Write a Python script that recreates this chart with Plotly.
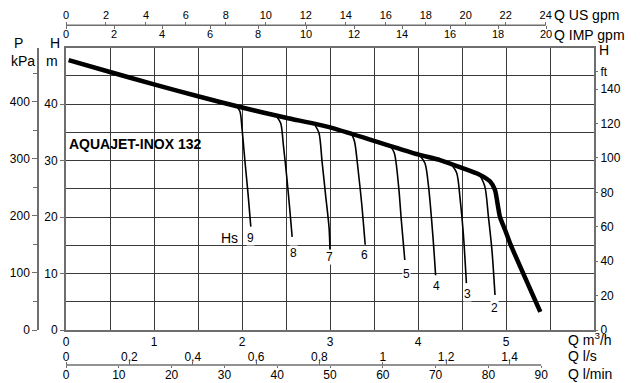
import plotly.graph_objects as go

# ---------------- data ----------------
# main pump curve, Q in m3/h, H in m
MAIN_Q = [0.03, 0.5, 1.0, 1.5, 2.0, 2.5, 3.0, 3.5, 4.0, 4.25, 4.5, 4.7, 4.82, 4.875, 4.91, 4.93, 4.99, 5.045, 5.39]
MAIN_H = [47.8, 45.7, 43.5, 41.4, 39.4, 37.6, 35.9, 33.5, 31.1, 30.1, 28.7, 27.5, 26.3, 24.8, 21.8, 20.1, 17.7, 15.4, 3.2]

# suction-lift (Hs) curves
HS_NAMES = ["9", "8", "7", "6", "5", "4", "3", "2"]
HS_Q = [
    [1.94, 1.977, 2.0, 2.034, 2.07, 2.10],
    [2.39, 2.44, 2.47, 2.51, 2.545, 2.57],
    [2.83, 2.875, 2.91, 2.95, 2.99, 3.0],
    [3.25, 3.28, 3.32, 3.36, 3.40],
    [3.68, 3.73, 3.78, 3.81, 3.85],
    [4.02, 4.08, 4.12, 4.17, 4.20],
    [4.38, 4.44, 4.48, 4.515, 4.55],
    [4.70, 4.76, 4.80, 4.84, 4.875],
]
HS_H = [
    [39.6, 38.7, 35.7, 29.8, 23.9, 18.3],
    [37.9, 36.6, 32.8, 26.9, 21.0, 16.5],
    [36.3, 34.9, 29.8, 23.9, 18.0, 13.9],
    [34.6, 33.3, 28.3, 22.4, 15.1],
    [32.7, 31.4, 25.4, 19.5, 12.4],
    [30.9, 29.5, 25.4, 16.5, 9.7],
    [29.3, 27.8, 23.0, 17.1, 8.3],
    [27.5, 25.4, 20.1, 14.2, 6.2],
]
HS_LABEL_Q = [2.097, 2.58, 2.994, 3.392, 3.869, 4.205, 4.568, 4.864]
HS_LABEL_H = [16.3, 13.7, 12.9, 13.3, 9.9, 7.8, 6.4, 3.9]

MODEL = "AQUAJET-INOX 132"

# axis tick values
Q_M3H_TICKS = [0, 1, 2, 3, 4, 5]
Q_LS_TICKS = [0, 0.2, 0.4, 0.6, 0.8, 1.0, 1.2, 1.4]
Q_LS_TEXT = ["0", "0,2", "0,4", "0,6", "0,8", "1", "1,2", "1,4"]
Q_LMIN_TICKS = [0, 10, 20, 30, 40, 50, 60, 70, 80, 90]
Q_USGPM_TICKS = [0, 2, 4, 6, 8, 10, 12, 14, 16, 18, 20, 22, 24]
Q_IMPGPM_TICKS = [0, 2, 4, 6, 8, 10, 12, 14, 16, 18, 20]
H_M_TICKS = [0, 10, 20, 30, 40]
P_KPA_TICKS = [0, 100, 200, 300, 400]
H_FT_TICKS = [0, 20, 40, 60, 80, 100, 120, 140, 150]
H_FT_TEXT = ["0", "20", "40", "60", "80", "100", "120", "140", "ft"]

# unit conversions (axis scales)
Q_MAX = 6.0
H_MAX = 50.0
LS_PER_M3H = 1 / 3.6
LMIN_PER_M3H = 1000 / 60
USGPM_PER_M3H = 4.40287
IMPGPM_PER_M3H = 3.66615
KPA_PER_M = 9.9
FT_PER_M = 3.28084

# ---------------- layout geometry ----------------
W, H = 640, 383
def fx(px):
    return px / W
def fy(py):
    return 1 - py / H

X_DOM = [fx(66), fx(594)]
Y_DOM = [fy(330), fy(47.7)]
FONT = "Liberation Sans, Arial, Helvetica, sans-serif"
GRID = "#3a3a3a"
AXL = "#6e6e6e"

fig = go.Figure()

# empty traces so that every secondary axis gets registered and drawn
for xa in ["x2", "x3", "x4", "x5"]:
    fig.add_trace(go.Scatter(x=[], y=[], xaxis=xa, yaxis="y", showlegend=False, hoverinfo="skip"))
for ya in ["y2", "y3"]:
    fig.add_trace(go.Scatter(x=[], y=[], xaxis="x", yaxis=ya, showlegend=False, hoverinfo="skip"))

for q, h in zip(HS_Q, HS_H):
    fig.add_trace(go.Scatter(x=q, y=h, mode="lines",
                             line=dict(color="black", width=1.6, shape="spline", smoothing=0.8),
                             showlegend=False, hoverinfo="skip"))

fig.add_trace(go.Scatter(x=MAIN_Q, y=MAIN_H, mode="lines",
                         line=dict(color="black", width=4.5, shape="spline", smoothing=0.6),
                         showlegend=False, hoverinfo="skip"))

annotations = []
for name, q, h in zip(HS_NAMES, HS_LABEL_Q, HS_LABEL_H):
    annotations.append(dict(x=q, y=h, xref="x", yref="y", text=name, showarrow=False,
                            font=dict(size=12, color="black", family=FONT),
                            bgcolor="white", borderpad=0))
annotations.append(dict(x=1.857, y=16.3, xref="x", yref="y", text="Hs", showarrow=False,
                        font=dict(size=14, color="black", family=FONT)))
annotations.append(dict(x=0.01, y=32.9, xref="x", yref="y", text="<b>" + MODEL + "</b>",
                        showarrow=False, xanchor="left",
                        font=dict(size=14, color="black", family=FONT)))

def plab(text, px, py, anchor="center", size=14):
    annotations.append(dict(x=fx(px), y=fy(py), xref="paper", yref="paper", text=text,
                            showarrow=False, xanchor=anchor, yanchor="middle",
                            font=dict(size=size, color="black", family=FONT)))

plab("P", 18, 43)
plab("kPa", 22.5, 61)
plab("H", 55, 43)
plab("m", 52, 61)
plab("H", 597, 50, "left")
plab("Q US gpm", 552, 15, "left")
plab("Q IMP gpm", 552, 35, "left")
plab("Q m<sup>3</sup>/h", 566, 339, "left")
plab("Q l/s", 566, 356, "left")
plab("Q l/min", 566, 374, "left")

tickfont = dict(size=12, color="black", family=FONT)
tickfont_s = dict(size=11, color="black", family=FONT)

TOP_POS = fy(25.3)
BOT_POS = fy(365)

fig.update_layout(
    width=W, height=H,
    margin=dict(l=0, r=0, t=0, b=0, autoexpand=False),
    paper_bgcolor="white", plot_bgcolor="white",
    showlegend=False,
    font=dict(family=FONT, color="black"),
    annotations=annotations,
    xaxis=dict(domain=X_DOM, range=[0, Q_MAX], tickmode="array", tickvals=Q_M3H_TICKS,
               ticks="", tickfont=tickfont, showgrid=True, gridcolor=GRID, gridwidth=1.2,
               minor=dict(tickmode="linear", tick0=0, dtick=0.5, showgrid=True, gridcolor=GRID, gridwidth=1.2, ticks=""),
               showline=True, linecolor=AXL, linewidth=2, mirror=True, zeroline=False,
               anchor="y", automargin=False),
    yaxis=dict(domain=Y_DOM, range=[0, H_MAX], tickmode="array", tickvals=H_M_TICKS,
               ticks="outside", ticklen=4, tickcolor=AXL, tickfont=tickfont,
               showgrid=True, gridcolor=GRID, gridwidth=1,
               minor=dict(tickmode="linear", tick0=0, dtick=5, showgrid=True, gridcolor=GRID, gridwidth=1, ticks=""),
               showline=True, linecolor=AXL, linewidth=2, mirror=True, zeroline=False,
               anchor="x", automargin=False),
    # bottom: l/s (labels above line) and l/min (labels below line)
    xaxis2=dict(overlaying="x", anchor="free", position=BOT_POS, side="top",
                range=[0, Q_MAX * LS_PER_M3H], tickmode="array", tickvals=Q_LS_TICKS, ticktext=Q_LS_TEXT,
                ticks="outside", ticklen=3, tickcolor=AXL, tickfont=tickfont, ticklabelstandoff=-4,
                showgrid=False, showline=False, zeroline=False, automargin=False),
    xaxis3=dict(overlaying="x", anchor="free", position=BOT_POS, side="bottom",
                range=[0, Q_MAX * LMIN_PER_M3H], tickmode="array", tickvals=Q_LMIN_TICKS,
                ticks="outside", ticklen=2, tickcolor=AXL, tickfont=tickfont, ticklabelstandoff=-3,
                showgrid=False, showline=False, zeroline=False, automargin=False),
    # top: US gpm (labels above) and IMP gpm (labels below)
    xaxis4=dict(overlaying="x", anchor="free", position=TOP_POS, side="top",
                range=[0, Q_MAX * USGPM_PER_M3H], tickmode="array", tickvals=Q_USGPM_TICKS,
                ticks="outside", ticklen=3, tickcolor=AXL, tickfont=tickfont_s, ticklabelstandoff=-1,
                showgrid=False, showline=False, zeroline=False, automargin=False),
    xaxis5=dict(overlaying="x", anchor="free", position=TOP_POS, side="bottom",
                range=[0, Q_MAX * IMPGPM_PER_M3H], tickmode="array", tickvals=Q_IMPGPM_TICKS,
                ticks="outside", ticklen=3, tickcolor=AXL, tickfont=tickfont_s, ticklabelstandoff=-5,
                showgrid=False, showline=False, zeroline=False, automargin=False),
    # left: P kPa
    yaxis2=dict(overlaying="y", anchor="free", position=fx(38), side="left",
                range=[0, H_MAX * KPA_PER_M], tickmode="array", tickvals=P_KPA_TICKS,
                ticks="outside", ticklen=5, tickcolor=AXL, tickfont=tickfont,
                minor=dict(tickmode="linear", tick0=0, dtick=50, ticks="outside", ticklen=4, tickcolor=AXL, showgrid=False),
                showgrid=False, showline=True, linecolor=AXL, linewidth=1.5, zeroline=False, automargin=False),
    # right: H ft
    yaxis3=dict(overlaying="y", anchor="x", side="right",
                range=[0, H_MAX * FT_PER_M], tickmode="array", tickvals=H_FT_TICKS, ticktext=H_FT_TEXT,
                ticks="outside", ticklen=3, tickcolor=AXL, tickfont=tickfont,
                showgrid=False, showline=False, zeroline=False, automargin=False),
)

# axis lines for the shorter secondary scales, drawn in their own axis units
fig.add_shape(type="line", xref="x3", yref="paper", x0=Q_LMIN_TICKS[0], x1=Q_LMIN_TICKS[-1],
              y0=BOT_POS, y1=BOT_POS, line=dict(color=AXL, width=1.5))
fig.add_shape(type="line", xref="x4", yref="paper", x0=Q_USGPM_TICKS[0], x1=Q_USGPM_TICKS[-1],
              y0=TOP_POS, y1=TOP_POS, line=dict(color=AXL, width=1.5))

fig.write_html("out.html", config={"displayModeBar": False},
               post_script="document.body.style.margin='0';")
